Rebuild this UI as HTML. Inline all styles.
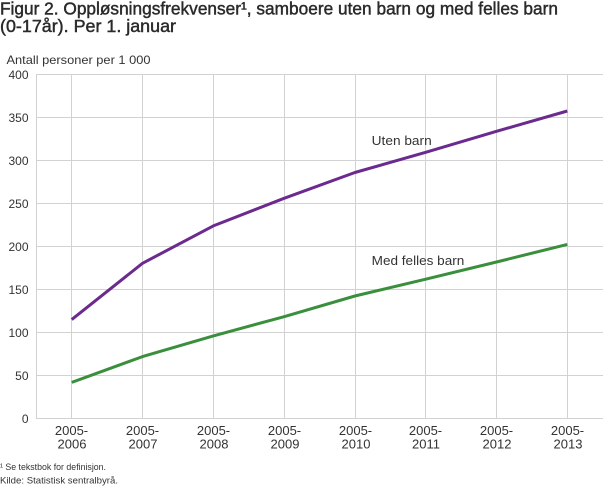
<!DOCTYPE html>
<html>
<head>
<meta charset="utf-8">
<style>
  html, body { margin: 0; padding: 0; background: #fff; }
  body { width: 610px; height: 488px; overflow: hidden; }
  svg { display: block; font-family: "Liberation Sans", "DejaVu Sans", sans-serif; }
</style>
</head>
<body>
<svg width="610" height="488" viewBox="0 0 610 488" xmlns="http://www.w3.org/2000/svg">
  <!-- Title -->
  <text x="0" y="14.5" font-size="17.5" fill="#2a2a2a" stroke="#2a2a2a" stroke-width="0.45" textLength="558" lengthAdjust="spacingAndGlyphs">Figur 2. Oppløsningsfrekvenser¹, samboere uten barn og med felles barn</text>
  <text x="0" y="32" font-size="17.5" fill="#2a2a2a" stroke="#2a2a2a" stroke-width="0.45" textLength="176" lengthAdjust="spacingAndGlyphs">(0-17år). Per 1. januar</text>

  <!-- Y axis title -->
  <text x="6.5" y="64" font-size="12" fill="#333" textLength="144" lengthAdjust="spacingAndGlyphs">Antall personer per 1 000</text>

  <!-- Grid -->
  <g stroke="#d2d2d2" stroke-width="1" fill="none">
    <line x1="36" y1="74.5" x2="603" y2="74.5"/>
    <line x1="36" y1="117.5" x2="603" y2="117.5"/>
    <line x1="36" y1="160.5" x2="603" y2="160.5"/>
    <line x1="36" y1="203.5" x2="603" y2="203.5"/>
    <line x1="36" y1="246.5" x2="603" y2="246.5"/>
    <line x1="36" y1="289.5" x2="603" y2="289.5"/>
    <line x1="36" y1="332.5" x2="603" y2="332.5"/>
    <line x1="36" y1="375.5" x2="603" y2="375.5"/>
    <line x1="36" y1="418.5" x2="603" y2="418.5"/>
    <line x1="36.5" y1="74.5" x2="36.5" y2="418.5"/>
    <line x1="71.5" y1="74.5" x2="71.5" y2="418.5"/>
    <line x1="142.5" y1="74.5" x2="142.5" y2="418.5"/>
    <line x1="213.5" y1="74.5" x2="213.5" y2="418.5"/>
    <line x1="284.5" y1="74.5" x2="284.5" y2="418.5"/>
    <line x1="355.5" y1="74.5" x2="355.5" y2="418.5"/>
    <line x1="425.5" y1="74.5" x2="425.5" y2="418.5"/>
    <line x1="496.5" y1="74.5" x2="496.5" y2="418.5"/>
    <line x1="567.5" y1="74.5" x2="567.5" y2="418.5"/>
  </g>

  <!-- Y tick labels -->
  <g font-size="12" fill="#333" text-anchor="end">
    <text x="28.5" y="79">400</text>
    <text x="28.5" y="122">350</text>
    <text x="28.5" y="165">300</text>
    <text x="28.5" y="208">250</text>
    <text x="28.5" y="251">200</text>
    <text x="28.5" y="294">150</text>
    <text x="28.5" y="337">100</text>
    <text x="28.5" y="380">50</text>
    <text x="28.5" y="423">0</text>
  </g>

  <!-- X labels -->
  <g font-size="13" fill="#333" text-anchor="middle">
    <text x="71.5" y="435">2005-</text><text x="72" y="448.3">2006</text>
    <text x="142.5" y="435">2005-</text><text x="143" y="448.3">2007</text>
    <text x="213.5" y="435">2005-</text><text x="214" y="448.3">2008</text>
    <text x="284.5" y="435">2005-</text><text x="285" y="448.3">2009</text>
    <text x="355.5" y="435">2005-</text><text x="356" y="448.3">2010</text>
    <text x="425.5" y="435">2005-</text><text x="426" y="448.3">2011</text>
    <text x="496.5" y="435">2005-</text><text x="497" y="448.3">2012</text>
    <text x="567.5" y="435">2005-</text><text x="568" y="448.3">2013</text>
  </g>

  <!-- Series -->
  <polyline fill="none" stroke="#6b2a8e" stroke-width="3" stroke-linejoin="round"
    points="71.7,319.6 142.5,263.3 213.3,225.9 284.1,198.3 354.9,172.5 425.7,152.3 496.5,131.3 567.3,111.0"/>
  <polyline fill="none" stroke="#3a8f3c" stroke-width="3" stroke-linejoin="round"
    points="71.7,382.4 142.5,356.6 213.3,335.9 284.1,316.7 354.9,296.0 425.7,279.2 496.5,262.0 567.3,244.4"/>

  <!-- Series labels -->
  <text x="371.7" y="145" font-size="12.5" fill="#333" textLength="60" lengthAdjust="spacingAndGlyphs">Uten barn</text>
  <text x="371.7" y="265" font-size="12.5" fill="#333" textLength="92.6" lengthAdjust="spacingAndGlyphs">Med felles barn</text>

  <!-- Footnotes -->
  <text x="0" y="470" font-size="9.5" fill="#333" textLength="106" lengthAdjust="spacingAndGlyphs">¹ Se tekstbok for definisjon.</text>
  <text x="0" y="483.3" font-size="9.5" fill="#333" textLength="118" lengthAdjust="spacingAndGlyphs">Kilde: Statistisk sentralbyrå.</text>
</svg>
</body>
</html>
